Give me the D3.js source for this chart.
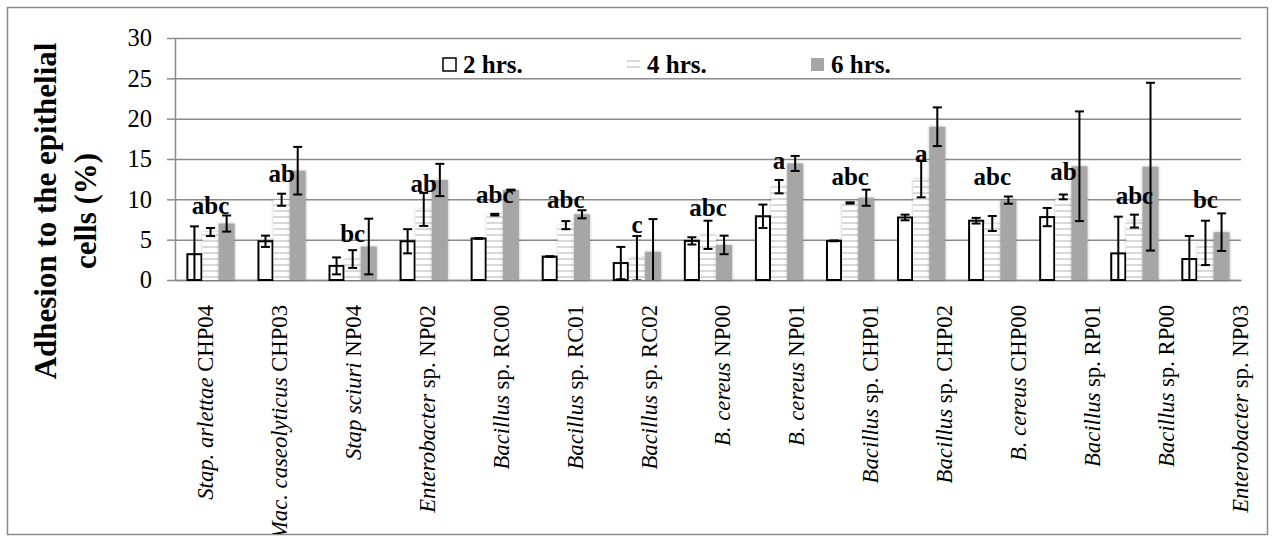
<!DOCTYPE html>
<html>
<head>
<meta charset="utf-8">
<script src="https://cdn.jsdelivr.net/npm/d3@7"></script>
<style>
  body { margin: 0; background: #fff; }
  svg { display: block; }
</style>
</head>
<body>
<svg id="chart" width="1275" height="539"></svg>
<script>
// Isolates (italic name part + plain strain part)
const categories = [
  "Stap. arlettae CHP04", "Mac. caseolyticus CHP03", "Stap sciuri NP04", "Enterobacter sp. NP02",
  "Bacillus sp. RC00", "Bacillus sp. RC01", "Bacillus sp. RC02", "B. cereus NP00",
  "B. cereus NP01", "Bacillus sp. CHP01", "Bacillus sp. CHP02", "B. cereus CHP00",
  "Bacillus sp. RP01", "Bacillus sp. RP00", "Enterobacter sp. NP03"
];
const italicPart = [
  "Stap. arlettae", "Mac. caseolyticus", "Stap sciuri", "Enterobacter",
  "Bacillus", "Bacillus", "Bacillus", "B. cereus",
  "B. cereus", "Bacillus", "Bacillus", "B. cereus",
  "Bacillus", "Bacillus", "Enterobacter"
];
const plainPart = [
  " CHP04", " CHP03", " NP04", " sp. NP02",
  " sp. RC00", " sp. RC01", " sp. RC02", " NP00",
  " NP01", " sp. CHP01", " sp. CHP02", " CHP00",
  " sp. RP01", " sp. RP00", " sp. NP03"
];

const seriesNames = ["2 hrs.", "4 hrs.", "6 hrs."];

// Adhesion (%) means and error (±)
const hrs2 = [3.2, 4.8, 1.75, 4.8, 5.15, 2.9, 2.1, 4.85, 7.9, 4.85, 7.75, 7.35, 7.8, 3.3, 2.6];
const err2 = [3.45, 0.7, 1.05, 1.5, 0.05, 0.05, 2.0, 0.45, 1.45, 0.05, 0.35, 0.35, 1.13, 4.55, 2.85];
const hrs4 = [5.95, 9.95, 2.6, 8.75, 8.1, 6.8, 2.7, 5.6, 11.57, 9.55, 12.5, 7.0, 10.3, 7.3, 4.6];
const err4 = [0.5, 0.75, 1.1, 2.05, 0.1, 0.5, 2.75, 1.75, 0.83, 0.08, 2.25, 0.93, 0.3, 0.8, 2.75];
const hrs6 = [7.0, 13.55, 4.15, 12.4, 11.15, 8.15, 3.5, 4.35, 14.45, 10.2, 19.0, 9.9, 14.1, 14.05, 5.93];
const err6 = [1.0, 2.95, 3.45, 2.0, 0.05, 0.5, 4.05, 1.15, 0.93, 1.0, 2.4, 0.45, 6.8, 10.4, 2.33];

// Significance letters and the axis level their baseline sits at
const letters = ["abc", "ab", "bc", "ab", "abc", "abc", "c", "abc", "a", "abc", "a", "abc", "ab", "abc", "bc"];
const letterLevel = [8.2, 12.1, 4.75, 10.9, 9.6, 8.9, 5.85, 7.9, 13.8, 11.8, 14.65, 11.8, 12.4, 9.4, 8.9];

const yTicks = [0, 5, 10, 15, 20, 25, 30];

const means = [hrs2, hrs4, hrs6];
const errs = [err2, err4, err6];

const svg = d3.select("#chart");
const font = "'Liberation Serif', 'Times New Roman', 'Liberation Sans', Arial, sans-serif";
const gridColor = "#8a8a8a";

const plot = { left: 175, right: 1241, top: 38, bottom: 280 };

const defs = svg.append("defs");
const stripes = defs.append("pattern")
  .attr("id", "stripes").attr("patternUnits", "userSpaceOnUse")
  .attr("width", 8).attr("height", 6).attr("y", 0);
stripes.append("rect").attr("width", 8).attr("height", 6).attr("fill", "#fff");
stripes.append("rect").attr("y", 0).attr("width", 8).attr("height", 2).attr("fill", "#d9d9d9");

const soft = defs.append("filter").attr("id", "soft")
  .attr("x", "-30%").attr("y", "-10%").attr("width", "160%").attr("height", "120%");
soft.append("feDropShadow").attr("dx", 0).attr("dy", 0).attr("stdDeviation", 1.6)
  .attr("flood-color", "#000").attr("flood-opacity", 0.28);

defs.append("clipPath").attr("id", "plotClip").append("rect")
  .attr("x", plot.left - 10).attr("y", plot.top).attr("width", plot.right - plot.left + 20)
  .attr("height", plot.bottom - plot.top);
defs.append("clipPath").attr("id", "frameClip").append("rect")
  .attr("x", 8).attr("y", 8).attr("width", 1259).attr("height", 526);

// frame
svg.append("rect").attr("x", 0).attr("y", 0).attr("width", 1275).attr("height", 539).attr("fill", "#fff");
svg.append("rect").attr("x", 7.5).attr("y", 7.5).attr("width", 1260).attr("height", 527)
  .attr("fill", "none").attr("stroke", gridColor).attr("stroke-width", 1.5);

const y = d3.scaleLinear().domain([0, 30]).range([plot.bottom, plot.top]);
const x0 = d3.scaleBand().domain(categories).range([plot.left, plot.right])
  .paddingInner(0.32).paddingOuter(0.16);
const x1 = d3.scaleBand().domain(seriesNames).range([0, x0.bandwidth()]);
// category labels are spread a little wider than the bar groups
const xLabel = d3.scalePoint().domain(categories).range([205, 1240]);

// gridlines
const grid = svg.append("g").attr("transform", `translate(${plot.left},0)`)
  .call(d3.axisLeft(y).tickValues(yTicks).tickSize(-(plot.right - plot.left)).tickFormat(""));
grid.select(".domain").remove();
grid.selectAll("line").attr("stroke", gridColor).attr("stroke-width", 1.5);

// y axis with outer ticks and labels
const yAxis = svg.append("g").attr("transform", `translate(${plot.left},0)`)
  .call(d3.axisLeft(y).tickValues(yTicks).tickSize(8).tickPadding(15).tickSizeOuter(0));
yAxis.select(".domain").attr("stroke", gridColor).attr("stroke-width", 1.5);
yAxis.selectAll("line").attr("stroke", gridColor).attr("stroke-width", 1.5);
yAxis.selectAll("text").attr("font-family", font).attr("font-size", 24.5).attr("fill", "#000");

// x axis baseline
const xAxis = svg.append("g").attr("transform", `translate(0,${plot.bottom})`)
  .call(d3.axisBottom(x0).tickSize(0).tickFormat(""));
xAxis.select(".domain").attr("stroke", gridColor).attr("stroke-width", 1.5);

// bars
const fills = ["#ffffff", "url(#stripes)", "#a6a6a6"];
means.forEach((vals, s) => {
  const g = svg.append("g");
  g.selectAll("rect").data(vals).join("rect")
    .attr("x", (d, i) => x0(categories[i]) + x1(seriesNames[s]) + (s === 0 ? 1 : 0))
    .attr("width", x1.bandwidth() - (s === 0 ? 2 : 0))
    .attr("y", d => y(d))
    .attr("height", d => y(0) - y(d))
    .attr("fill", fills[s])
    .attr("stroke", s === 0 ? "#000" : "none")
    .attr("stroke-width", s === 0 ? 2 : 0)
    .attr("filter", s === 0 ? null : "url(#soft)");
});

// error bars
const errG = svg.append("g").attr("clip-path", "url(#plotClip)")
  .attr("stroke", "#000").attr("stroke-width", 2).attr("fill", "none");
const capHalf = 4.5;
means.forEach((vals, s) => {
  vals.forEach((v, i) => {
    const cx = x0(categories[i]) + x1(seriesNames[s]) + x1.bandwidth() / 2;
    const hi = y(v + errs[s][i]);
    const lo = y(v - errs[s][i]);
    errG.append("line").attr("x1", cx).attr("x2", cx).attr("y1", hi).attr("y2", lo);
    errG.append("line").attr("x1", cx - capHalf).attr("x2", cx + capHalf).attr("y1", hi).attr("y2", hi);
    errG.append("line").attr("x1", cx - capHalf).attr("x2", cx + capHalf).attr("y1", lo).attr("y2", lo);
  });
});

// significance letters
svg.append("g").selectAll("text").data(letters).join("text")
  .attr("x", (d, i) => x0(categories[i]) + x0.bandwidth() / 2)
  .attr("y", (d, i) => y(letterLevel[i]))
  .attr("text-anchor", "middle")
  .attr("font-family", font).attr("font-weight", "bold").attr("font-size", 25)
  .text(d => d);

// category labels
const labels = svg.append("g").attr("clip-path", "url(#frameClip)")
  .selectAll("text").data(categories).join("text")
  .attr("transform", d => `translate(${xLabel(d)},305) rotate(-90)`)
  .attr("dy", "0.35em")
  .attr("text-anchor", "end")
  .attr("font-family", font).attr("font-size", 22.7);
labels.append("tspan").attr("font-style", "italic").text((d, i) => italicPart[i]);
labels.append("tspan").text((d, i) => plainPart[i]);

// y title
const title = svg.append("text")
  .attr("transform", "translate(56,211) rotate(-90)")
  .attr("text-anchor", "middle")
  .attr("font-family", font).attr("font-weight", "bold").attr("font-size", 31);
title.append("tspan").attr("x", 0).attr("dy", 0).text("Adhesion to the epithelial");
title.append("tspan").attr("x", 0).attr("dy", 40).text("cells (%)");

// legend
const legend = svg.append("g");
seriesNames.forEach((name, s) => {
  const lx = 443 + s * 184;
  legend.append("rect").attr("x", lx).attr("y", 58).attr("width", 13).attr("height", 13)
    .attr("fill", fills[s])
    .attr("stroke", s === 0 ? "#000" : "none").attr("stroke-width", 1.5);
  legend.append("text").attr("x", lx + 20).attr("y", 73)
    .attr("font-family", font).attr("font-weight", "bold").attr("font-size", 25)
    .text(name);
});
</script>
</body>
</html>
